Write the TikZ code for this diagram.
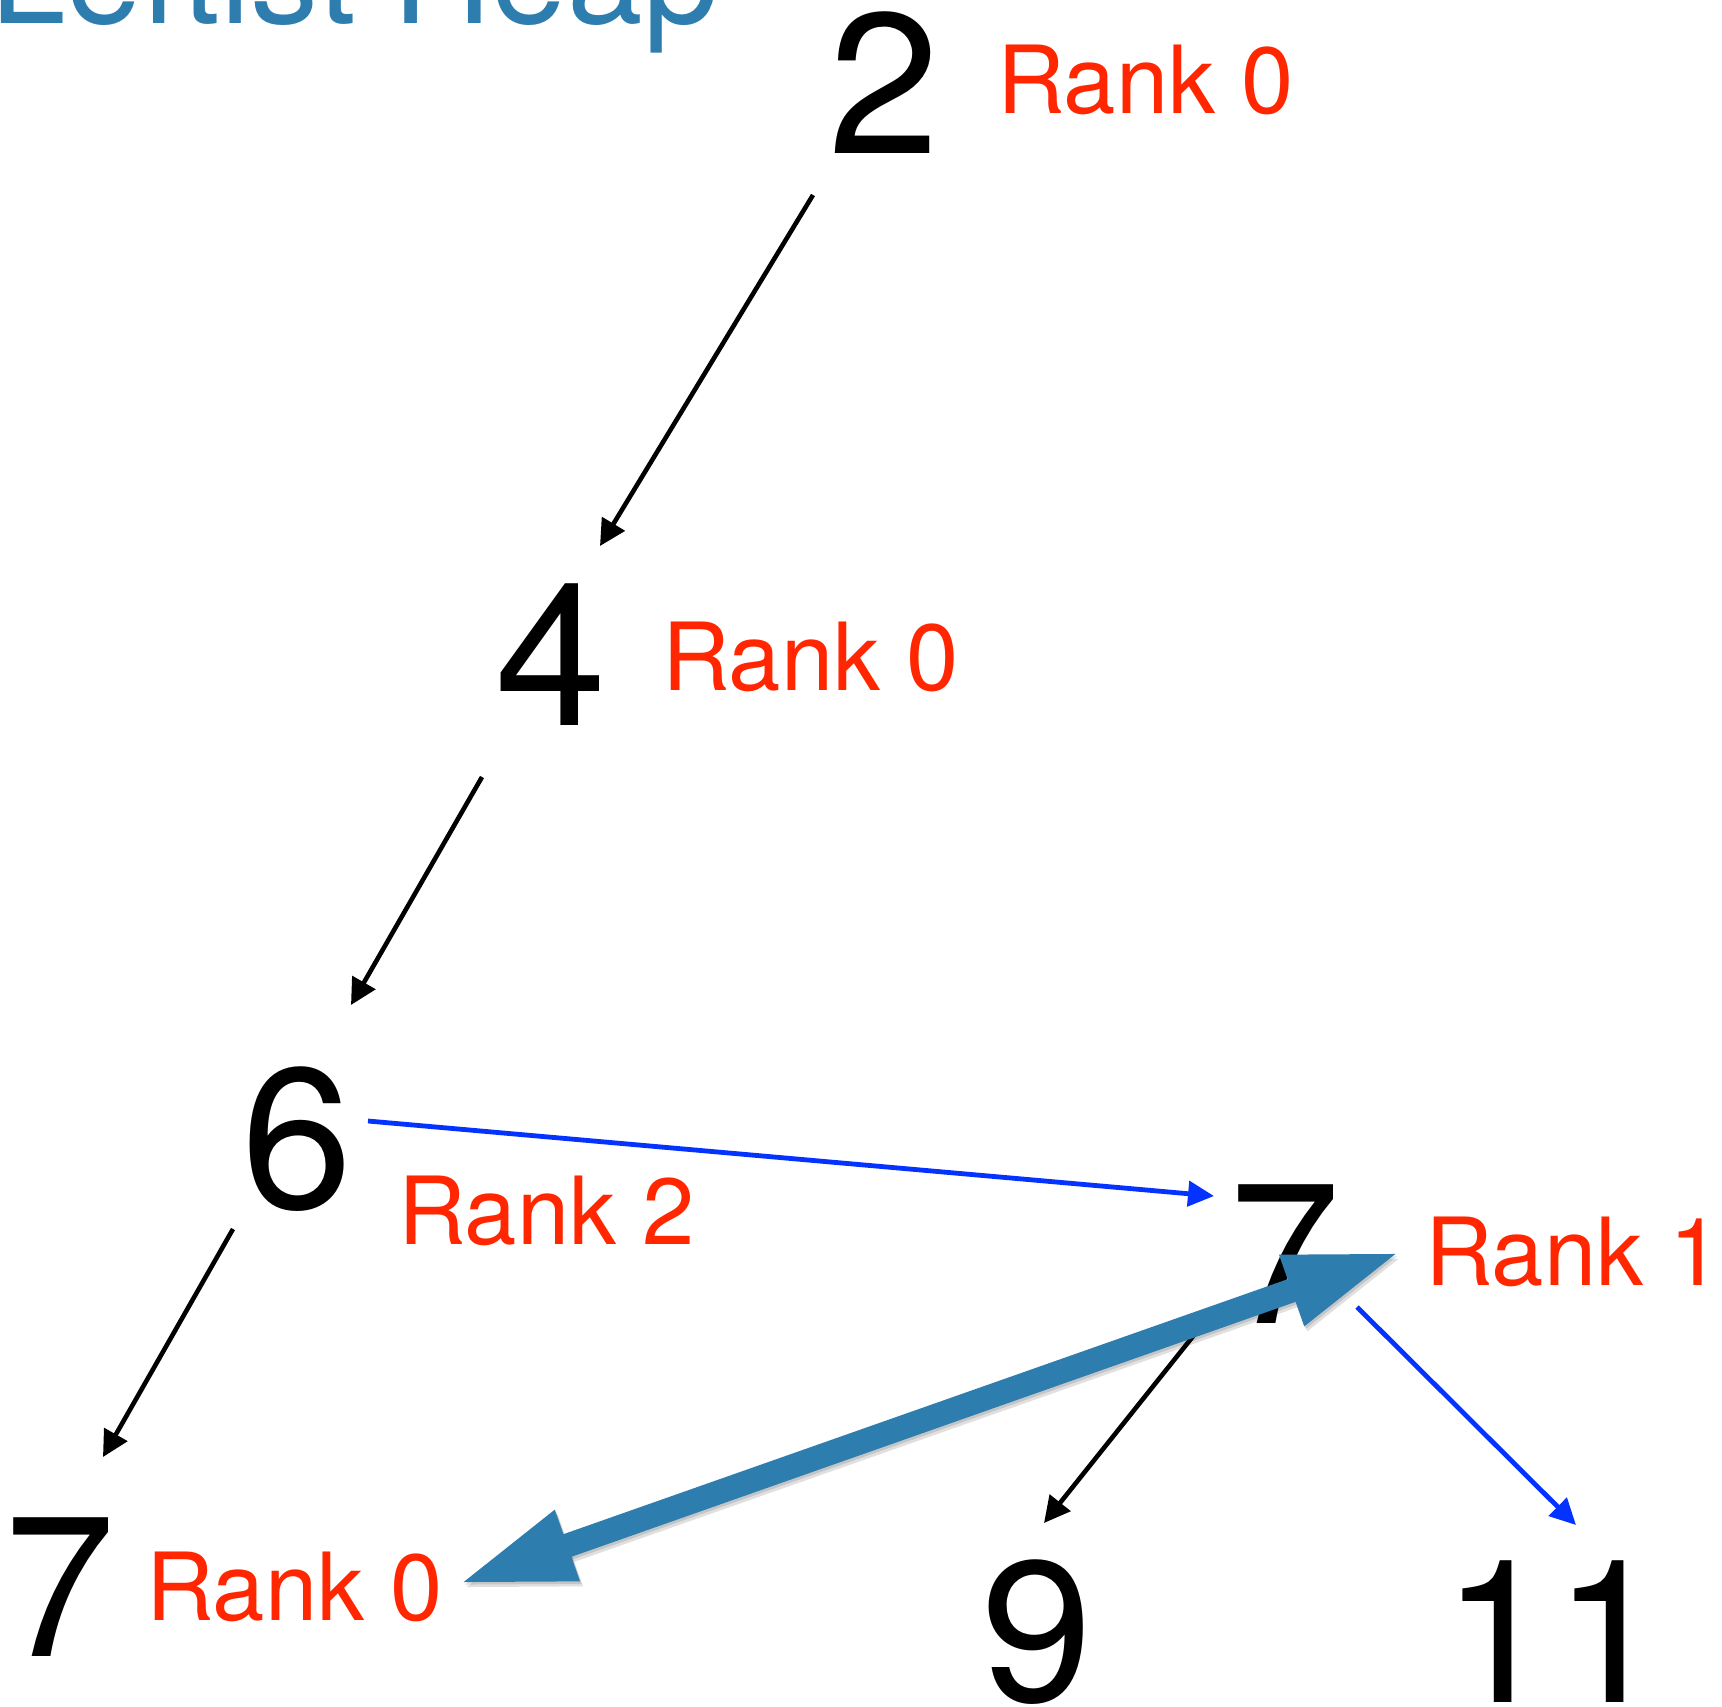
\documentclass[tikz,border=0pt]{standalone}
\usepackage{fontspec}
\setmainfont{TeX Gyre Heros}
\usetikzlibrary{arrows.meta}
\definecolor{rankred}{HTML}{FF2600}
\definecolor{linkblue}{HTML}{0433FF}
\definecolor{steel}{HTML}{2E7DAF}
\tikzset{
  num/.style={font=\fontsize{100}{100}\selectfont, inner sep=0, anchor=base},
  rank/.style={font=\fontsize{47}{47}\selectfont, text=rankred, inner sep=0, anchor=base west},
  blackarrow/.style={draw=black, line width=2.3pt, -{Triangle[length=13pt,width=13pt]}},
  bluearrow/.style={draw=linkblue, line width=2.4pt, -{Triangle[length=13pt,width=12.5pt]}},
  bigarrow/.style={line width=12pt, {Triangle[length=58pt,width=34pt]}-{Triangle[length=58pt,width=34pt]}},
}
\begin{document}
\begin{tikzpicture}[x=0.5pt,y=-0.5pt]
\useasboundingbox (0,0) rectangle (1722,1706);
% title
\node[font=\fontsize{68}{68}\selectfont, text=steel, inner sep=0, anchor=base west] (title) at (-10,24) {Leftist Heap};
% numbers
\node[num] (n2) at (884,154) {2};
\node[num] (n4) at (551,725) {4};
\node[num] (n6) at (297,1208) {6};
\node[num] (n7r) at (1285,1323) {7};
\node[num] (n7l) at (60,1656) {7};
\node[num] (n9) at (1037,1701) {9};
\node[num] (n11) at (1554,1702) {11};
% ranks
\node[rank] (r2) at (997,114) {Rank 0};
\node[rank] (r4) at (662,690) {Rank 0};
\node[rank] (r6) at (398,1244) {Rank 2};
\node[rank] (r7r) at (1425,1285) {Rank 1};
\node[rank] (r7l) at (146,1620) {Rank 0};
% connector end points
\coordinate (a2s) at (813,195);  \coordinate (a2e) at (600,546);
\coordinate (a4s) at (482,777);  \coordinate (a4e) at (351,1005);
\coordinate (a6s) at (233,1229); \coordinate (a6e) at (103,1457);
\coordinate (b6s) at (368,1121); \coordinate (b6e) at (1214,1196);
\coordinate (a7s) at (1198,1330); \coordinate (a7e) at (1044,1523);
\coordinate (b7s) at (1357,1307); \coordinate (b7e) at (1576,1525);
\coordinate (bigL) at (458,1584); \coordinate (bigR) at (1401,1252);
% thin connectors
\draw[blackarrow] (a2s) -- (a2e);
\draw[blackarrow] (a4s) -- (a4e);
\draw[blackarrow] (a6s) -- (a6e);
\draw[blackarrow] (a7s) -- (a7e);
\draw[bluearrow] (b6s) -- (b6e);
\draw[bluearrow] (b7s) -- (b7e);
% thick double arrow with soft shadow
\draw[bigarrow, draw=black, fill=black, opacity=0.12] ([shift={(3,5)}]bigL) -- ([shift={(3,5)}]bigR);
\draw[bigarrow, draw=black, fill=black, opacity=0.12] ([shift={(1.5,2.5)}]bigL) -- ([shift={(1.5,2.5)}]bigR);
\draw[bigarrow, draw=steel, fill=steel] (bigL) -- (bigR);
\end{tikzpicture}
\end{document}
